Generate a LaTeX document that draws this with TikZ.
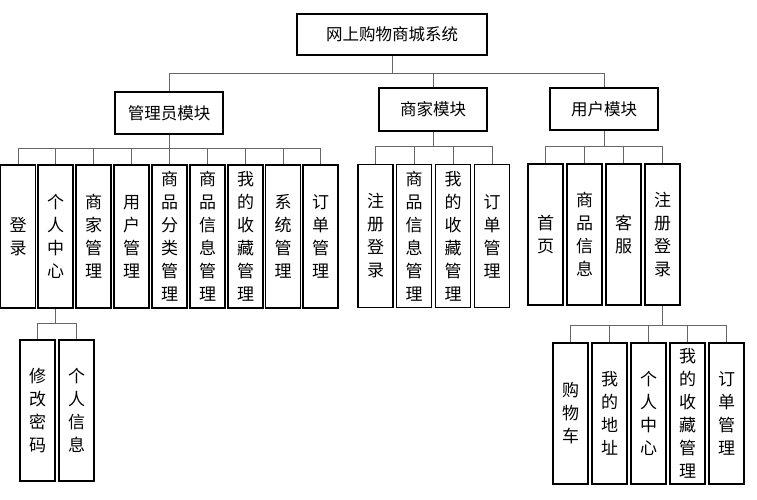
\documentclass[tikz,border=0pt]{standalone}
\usepackage{fontspec}
\setmainfont{Noto Sans CJK SC}
\begin{document}
\begin{tikzpicture}[x=1pt,y=-1pt,
  box/.style={draw=black,line width=1.3pt,inner sep=0pt,font=\fontsize{16.5}{18}\selectfont},
  vbox/.style={box,minimum width=35pt,align=center,font=\fontsize{17}{23}\selectfont},
  ln/.style={draw=gray!80!black,line width=0.8pt}]
\useasboundingbox (0,0) rectangle (757,500);
\node[box,minimum width=190pt,minimum height=41pt] (top) at (392,34.5) {网上购物商城系统};
\node[box,minimum width=108pt,minimum height=42pt] (adm) at (169,113) {管理员模块};
\node[box,minimum width=108pt,minimum height=43pt] (mer) at (433,109.5) {商家模块};
\node[box,minimum width=108pt,minimum height=42pt] (usr) at (604,109) {用户模块};
\draw[ln] (top.south) -- (392,73) (169,73) -- (604,73) (169,73) -- (adm.north) (433,73) -- (mer.north) (604,73) -- (usr.north);
% admin children
\foreach \n/\x/\t in {a1/18/登\\录, a2/55.5/个\\人\\中\\心, a3/93.5/商\\家\\管\\理, a4/131.5/用\\户\\管\\理, a5/169.5/商\\品\\分\\类\\管\\理, a6/207.5/商\\品\\信\\息\\管\\理, a7/245.5/我\\的\\收\\藏\\管\\理, a8/283/系\\统\\管\\理, a9/320.5/订\\单\\管\\理}{
  \node[vbox,minimum height=143pt] (\n) at (\x,236.5) {\t};
  \draw[ln] (\x,148) -- (\n.north);
}
\draw[ln] (adm.south) -- (169,148) (18,148) -- (320.5,148);
% merchant children
\foreach \n/\x/\t in {m1/375.5/注\\册\\登\\录, m2/414/商\\品\\信\\息\\管\\理, m3/453/我\\的\\收\\藏\\管\\理, m4/492/订\\单\\管\\理}{
  \node[vbox,minimum height=143pt] (\n) at (\x,236) {\t};
  \draw[ln] (\x,146) -- (\n.north);
}
\draw[ln] (mer.south) -- (433,146) (375.5,146) -- (492,146);
% user children
\foreach \n/\x/\t in {u1/545.5/首\\页, u2/584.5/商\\品\\信\\息, u3/623.5/客\\服, u4/662.5/注\\册\\登\\录}{
  \node[vbox,minimum height=141pt] (\n) at (\x,234.5) {\t};
  \draw[ln] (\x,146) -- (\n.north);
}
\draw[ln] (usr.south) -- (604,146) (545.5,146) -- (662.5,146);
% personal center children
\foreach \n/\x/\t in {p1/37.5/修\\改\\密\\码, p2/76.5/个\\人\\信\\息}{
  \node[vbox,minimum height=141pt] (\n) at (\x,410.5) {\t};
  \draw[ln] (\x,323) -- (\n.north);
}
\draw[ln] (a2.south) -- (55.5,323) (37.5,323) -- (76.5,323);
% register children
\foreach \n/\x/\t in {r1/570.5/购\\物\\车, r2/609.5/我\\的\\地\\址, r3/648.5/个\\人\\中\\心, r4/687.5/我\\的\\收\\藏\\管\\理, r5/726.5/订\\单\\管\\理}{
  \node[vbox,minimum height=141pt] (\n) at (\x,413.5) {\t};
  \draw[ln] (\x,325) -- (\n.north);
}
\draw[ln] (u4.south) -- (662.5,325) (570.5,325) -- (726.5,325);
\end{tikzpicture}
\end{document}
